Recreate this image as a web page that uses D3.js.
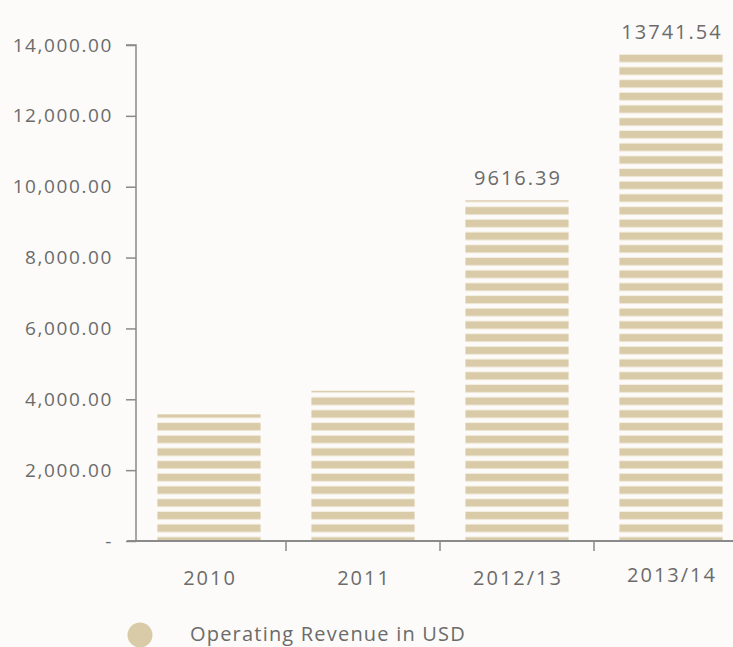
<!DOCTYPE html>
<html>
<head>
<meta charset="utf-8">
<script src="https://cdn.jsdelivr.net/npm/d3@7/dist/d3.min.js"></script>
<style>
  html, body { margin: 0; padding: 0; background: #fcfbf9; }
  svg { display: block; }
  text { font-family: "Open Sans", "Noto Sans", sans-serif; fill: #6b6b6b; }
</style>
</head>
<body>
<svg id="chart" width="733" height="647"></svg>
<script>
// Operating revenue per period (USD)
const categories = ["2010", "2011", "2012/13", "2013/14"];
const revenue = [3575, 4240, 9616.39, 13741.54];
const valueLabels = [null, null, "9616.39", "13741.54"];
const yTicks = [0, 2000, 4000, 6000, 8000, 10000, 12000, 14000];
const legendLabel = "Operating Revenue in USD";

const barColor = "#d9cba8";
const axisColor = "#8a8a8a";

const svg = d3.select("#chart");
const baseY = 541, topY = 45, axisX = 136;

const y = d3.scaleLinear().domain([0, 14000]).range([baseY, topY]);
const x = d3.scaleBand().domain(categories).range([132, 748])
  .paddingInner(0.33).paddingOuter(0.165);

// horizontal stripe fill, anchored to the baseline
const period = 12.7, stripeH = 7.3;
const defs = svg.append("defs");
const pat = defs.append("pattern")
  .attr("id", "stripes")
  .attr("patternUnits", "userSpaceOnUse")
  .attr("x", 0).attr("y", (baseY - 9 - stripeH) % period)
  .attr("width", 10).attr("height", period);
pat.append("rect").attr("x", 0).attr("y", 0).attr("width", 10).attr("height", stripeH)
  .attr("fill", barColor);
pat.append("rect").attr("x", 0).attr("y", stripeH).attr("width", 10).attr("height", 0.6)
  .attr("fill", "#ede5d2");
pat.append("rect").attr("x", 0).attr("y", period - 0.6).attr("width", 10).attr("height", 0.6)
  .attr("fill", "#ede5d2");

// bars
svg.append("g").selectAll("rect")
  .data(categories)
  .join("rect")
  .attr("x", d => x(d))
  .attr("width", x.bandwidth())
  .attr("y", (d, i) => y(revenue[i]))
  .attr("height", (d, i) => baseY - y(revenue[i]))
  .attr("fill", "url(#stripes)");

// value labels above the two latest bars
svg.append("g").selectAll("text")
  .data(categories.filter((d, i) => valueLabels[i]))
  .join("text")
  .attr("x", d => x(d) + x.bandwidth() / 2 + 1)
  .attr("y", d => y(revenue[categories.indexOf(d)]) - 15)
  .attr("text-anchor", "middle")
  .style("font-size", "20px")
  .style("letter-spacing", "2px")
  .text(d => valueLabels[categories.indexOf(d)]);

// y axis
const fmt = d3.format(",.2f");
const yAxis = d3.axisLeft(y).tickValues(yTicks).tickSize(10).tickPadding(13)
  .tickFormat(d => d === 0 ? "-" : fmt(d));
const gy = svg.append("g").attr("transform", `translate(${axisX},0)`).call(yAxis);
gy.select(".domain").attr("stroke", axisColor).attr("stroke-width", 1.5)
  .attr("d", `M-10,${topY}H0V${baseY}`);
gy.selectAll(".tick line").attr("stroke", axisColor).attr("stroke-width", 1.5);
gy.selectAll(".tick text")
  .attr("fill", "#6b6b6b")
  .style("font-size", "19px")
  .style("letter-spacing", "1.6px")
  .style("font-family", "'Open Sans', sans-serif");

// x axis baseline and separators between categories
const gx = svg.append("g");
gx.append("line").attr("x1", 127).attr("x2", 733).attr("y1", baseY).attr("y2", baseY)
  .attr("stroke", axisColor).attr("stroke-width", 2);
const gap = x.step() * x.paddingInner();
gx.selectAll("line.sep")
  .data(categories.slice(1))
  .join("line")
  .attr("class", "sep")
  .attr("x1", d => x(d) - gap / 2).attr("x2", d => x(d) - gap / 2)
  .attr("y1", baseY).attr("y2", baseY + 10)
  .attr("stroke", axisColor).attr("stroke-width", 1.5);
gx.selectAll("text")
  .data(categories)
  .join("text")
  .attr("x", d => x(d) + x.bandwidth() / 2 + 1)
  .attr("y", (d, i) => i === 3 ? 582 : 585)
  .attr("text-anchor", "middle")
  .style("font-size", "20px")
  .style("letter-spacing", "2px")
  .text(d => d);

// legend
const lg = svg.append("g");
lg.append("circle").attr("cx", 140).attr("cy", 635).attr("r", 12.5).attr("fill", barColor);
lg.append("text").attr("x", 190).attr("y", 641)
  .style("font-size", "20px")
  .style("letter-spacing", "1.2px")
  .text(legendLabel);
</script>
</body>
</html>
